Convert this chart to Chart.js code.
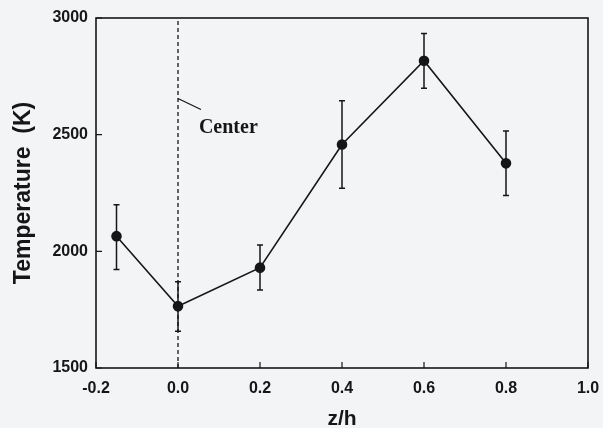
<!DOCTYPE html>
<html>
<head>
<meta charset="utf-8">
<script src="https://cdn.jsdelivr.net/npm/chart.js@4/dist/chart.umd.min.js"></script>
<style>
  html, body { margin: 0; padding: 0; background: #f3f4f6; }
  #wrap { width: 603px; height: 428px; position: relative; }
</style>
</head>
<body>
<div id="wrap"><canvas id="c" width="603" height="428"></canvas></div>
<script>
// ---- data ----
const zOverH      = [-0.15, 0.0, 0.2, 0.4, 0.6, 0.8];
const temperature = [2065, 1765, 1930, 2458, 2817, 2377];
const errPlus     = [135, 105, 97, 187, 117, 139];
const errMinus    = [143, 108, 96, 188, 118, 138];
const xTicks      = [-0.2, 0.0, 0.2, 0.4, 0.6, 0.8, 1.0];
const yTicks      = [1500, 2000, 2500, 3000];
const centerLineX = [0.0, 0.0];
const centerLineY = [1500, 3000];
const centerLabel = "Center";

const INK = '#161616';

const errorBarPlugin = {
  id: 'errorBars',
  afterDatasetsDraw(chart) {
    const ctx = chart.ctx, xs = chart.scales.x, ys = chart.scales.y;
    ctx.save();
    ctx.strokeStyle = INK;
    ctx.lineWidth = 1.5;
    zOverH.forEach((xv, i) => {
      const px = xs.getPixelForValue(xv);
      const top = ys.getPixelForValue(temperature[i] + errPlus[i]);
      const bot = ys.getPixelForValue(temperature[i] - errMinus[i]);
      ctx.beginPath();
      ctx.moveTo(px, top); ctx.lineTo(px, bot);
      ctx.moveTo(px - 3, top); ctx.lineTo(px + 3, top);
      ctx.moveTo(px - 3, bot); ctx.lineTo(px + 3, bot);
      ctx.stroke();
    });
    ctx.restore();
  }
};

const framePlugin = {
  id: 'frame',
  afterDraw(chart) {
    const ctx = chart.ctx, a = chart.chartArea, xs = chart.scales.x, ys = chart.scales.y;
    ctx.save();
    ctx.strokeStyle = INK;
    ctx.lineWidth = 1.6;
    ctx.strokeRect(a.left, a.top, a.right - a.left, a.bottom - a.top);
    ctx.lineWidth = 1.2;
    ctx.beginPath();
    xTicks.forEach(v => {
      const px = xs.getPixelForValue(v);
      ctx.moveTo(px, a.bottom); ctx.lineTo(px, a.bottom - 6);
    });
    yTicks.forEach(v => {
      const py = ys.getPixelForValue(v);
      ctx.moveTo(a.left, py); ctx.lineTo(a.left + 6, py);
    });
    ctx.stroke();
    // "Center" annotation with leader line
    const lx0 = xs.getPixelForValue(0.0), ly0 = ys.getPixelForValue(2655);
    const lx1 = xs.getPixelForValue(0.056), ly1 = ys.getPixelForValue(2608);
    ctx.lineWidth = 1.3;
    ctx.beginPath(); ctx.moveTo(lx0, ly0); ctx.lineTo(lx1, ly1); ctx.stroke();
    ctx.fillStyle = INK;
    ctx.font = 'bold 20px "Liberation Serif", "Times New Roman", serif';
    ctx.textAlign = 'left';
    ctx.textBaseline = 'alphabetic';
    ctx.fillText(centerLabel, xs.getPixelForValue(0.051), ys.getPixelForValue(2507));
    ctx.restore();
  }
};

new Chart(document.getElementById('c'), {
  type: 'scatter',
  data: {
    datasets: [
      {
        label: 'Temperature',
        data: zOverH.map((x, i) => ({ x: x, y: temperature[i] })),
        showLine: true,
        borderColor: INK,
        backgroundColor: INK,
        borderWidth: 1.6,
        pointRadius: 4.5,
        pointHoverRadius: 4.5,
        tension: 0
      },
      {
        label: 'Center line',
        data: centerLineX.map((x, i) => ({ x: x, y: centerLineY[i] })),
        showLine: true,
        borderColor: INK,
        borderWidth: 1.3,
        borderDash: [4, 3],
        pointRadius: 0
      }
    ]
  },
  options: {
    responsive: false,
    animation: false,
    devicePixelRatio: 1,
    layout: { padding: { top: 18, right: 15, left: 0, bottom: 0 } },
    plugins: { legend: { display: false }, tooltip: { enabled: false } },
    scales: {
      x: {
        type: 'linear',
        min: -0.2, max: 1.0,
        afterBuildTicks(scale) { scale.ticks = xTicks.map(v => ({ value: v })); },
        afterFit(scale) { scale.height = 60; scale.paddingLeft = 0; scale.paddingRight = 0; },
        grid: { display: false, drawTicks: false },
        border: { display: false },
        ticks: {
          color: INK,
          padding: 11,
          font: { family: '"Liberation Sans", Arial, sans-serif', size: 16, weight: 'bold' },
          callback: v => Number(v).toFixed(1)
        },
        title: {
          display: true,
          text: 'z/h',
          color: INK,
          padding: { top: 0, bottom: -4 },
          font: { family: '"Liberation Sans", Arial, sans-serif', size: 21, weight: 'bold' }
        }
      },
      y: {
        type: 'linear',
        min: 1500, max: 3000,
        afterBuildTicks(scale) { scale.ticks = yTicks.map(v => ({ value: v })); },
        afterFit(scale) { scale.width = 96; scale.paddingTop = 0; scale.paddingBottom = 0; },
        grid: { display: false, drawTicks: false },
        border: { display: false },
        ticks: {
          color: INK,
          padding: 8,
          font: { family: '"Liberation Sans", Arial, sans-serif', size: 16, weight: 'bold' },
          callback: v => String(v)
        },
        title: {
          display: true,
          text: 'Temperature  (K)',
          color: INK,
          padding: { top: 10, bottom: 0 },
          font: { family: '"Liberation Sans", Arial, sans-serif', size: 23, weight: 'bold' }
        }
      }
    }
  },
  plugins: [errorBarPlugin, framePlugin]
});
</script>
</body>
</html>
